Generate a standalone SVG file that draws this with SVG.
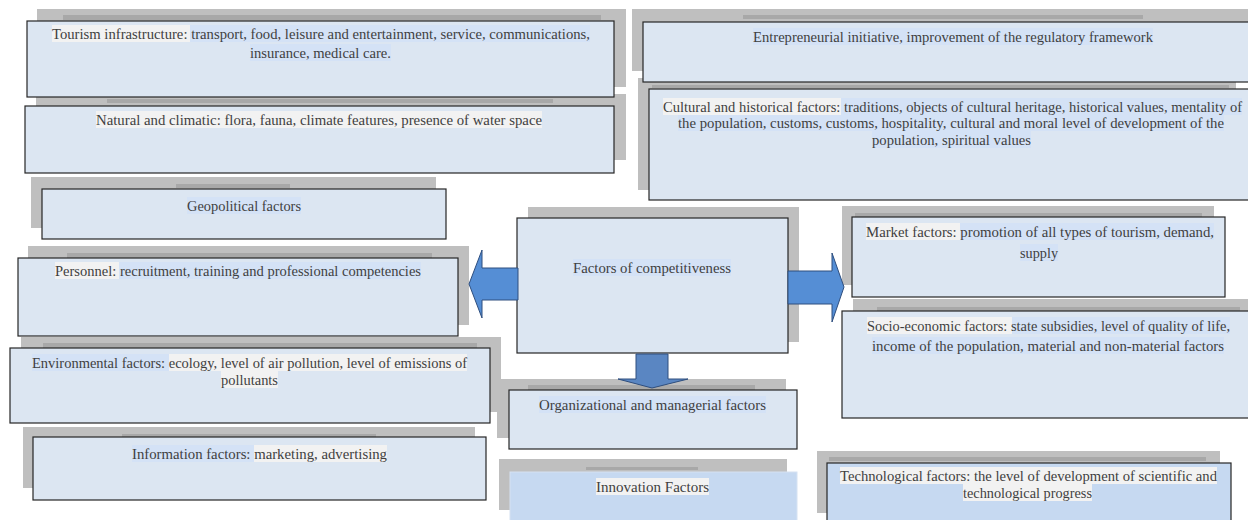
<svg xmlns="http://www.w3.org/2000/svg" width="1248" height="520" viewBox="0 0 1248 520">
  <style>
    .sh { fill: #bfbfbf; }
    .band { fill: #a8a8a8; }
    .box { fill: #dce6f2; stroke: #262626; stroke-width: 1.2; }
    .boxb { fill: #c6d9f1; stroke: #262626; stroke-width: 1.2; }
    .boxn { fill: #c6d9f1; stroke: #d6e2f2; stroke-width: 1; }
    .hw { fill: #f2f2f2; }
    .hb { fill: #d4e2f6; }
    text { font-family: "Liberation Serif", "Times New Roman", serif; font-size: 14.5px; fill: #3f3f3f; text-anchor: middle; }
    .arr { fill: #558ed5; stroke: #2e4e7e; stroke-width: 1; }
    .arrd { fill: #5a86c2; stroke: #2e4e7e; stroke-width: 1; }
  </style>

  <!-- lower rows first, so upper boxes sit on top of the shadows below them -->
  <g id="innovation">
    <rect class="sh" x="499" y="459" width="288" height="51"/>
    <rect class="band" x="586" y="467" width="112" height="3"/>
    <rect class="boxn" x="510" y="472" width="287" height="60"/>
    <rect class="hw" x="596" y="478" width="113" height="17"/>
    <text x="652.5" y="491.5" textLength="113" lengthAdjust="spacingAndGlyphs">Innovation Factors</text>
  </g>

  <g id="technological">
    <rect class="sh" x="817" y="451" width="403" height="62"/>
    <rect class="band" x="829" y="457" width="377" height="4"/>
    <rect class="boxb" x="827" y="463" width="404" height="70"/>
    <rect class="hw" x="840" y="467" width="377" height="17"/>
    <rect class="hw" x="963" y="484" width="129" height="17"/>
    <text x="1028.5" y="480.5" textLength="377" lengthAdjust="spacingAndGlyphs">Technological factors: the level of development of scientific and</text>
    <text x="1027.5" y="497.5" textLength="129" lengthAdjust="spacingAndGlyphs">technological progress</text>
  </g>

  <g id="information">
    <rect class="sh" x="23" y="427" width="452" height="61"/>
    <rect class="band" x="122" y="434" width="254" height="4"/>
    <rect class="box" x="33" y="437" width="453" height="63"/>
    <rect class="hb" x="132" y="445" width="122" height="17"/>
    <rect class="hw" x="254" y="445" width="133" height="17"/>
    <text x="259.5" y="458.5" textLength="255" lengthAdjust="spacingAndGlyphs">Information factors: marketing, advertising</text>
  </g>

  <g id="organizational">
    <rect class="sh" x="497" y="379" width="289" height="59"/>
    <rect class="band" x="528" y="385" width="227" height="5"/>
    <rect class="box" x="509" y="390" width="288" height="59"/>
    <rect class="hb" x="539" y="396" width="227" height="17"/>
    <text x="652.5" y="409.5" textLength="227" lengthAdjust="spacingAndGlyphs">Organizational and managerial factors</text>
  </g>

  <g id="environmental">
    <rect class="sh" x="21" y="337" width="480" height="75"/>
    <rect class="band" x="43" y="343" width="434" height="5"/>
    <rect class="box" x="10" y="348" width="480" height="75"/>
    <rect class="hb" x="32" y="354" width="137" height="17"/>
    <rect class="hw" x="169" y="354" width="298" height="17"/>
    <rect class="hw" x="221" y="371" width="57" height="17"/>
    <text x="249.5" y="367.5" textLength="435" lengthAdjust="spacingAndGlyphs">Environmental factors: ecology, level of air pollution, level of emissions of</text>
    <text x="249.5" y="384.5" textLength="57" lengthAdjust="spacingAndGlyphs">pollutants</text>
  </g>

  <g id="socio-economic">
    <rect class="sh" x="853" y="299" width="397" height="110"/>
    <rect class="band" x="877" y="307" width="363" height="5"/>
    <rect class="box" x="842" y="311" width="408" height="107"/>
    <rect class="hw" x="867" y="317" width="145" height="17"/>
    <rect class="hb" x="1012" y="317" width="218" height="17"/>
    <rect class="hb" x="872" y="337" width="352" height="17"/>
    <text x="1048.5" y="330.5" textLength="363" lengthAdjust="spacingAndGlyphs">Socio-economic factors: state subsidies, level of quality of life,</text>
    <text x="1048" y="350.5" textLength="352" lengthAdjust="spacingAndGlyphs">income of the population, material and non-material factors</text>
  </g>

  <g id="personnel">
    <rect class="sh" x="28" y="246" width="441" height="79"/>
    <rect class="band" x="67" y="253" width="365" height="5"/>
    <rect class="box" x="18" y="258" width="440" height="78"/>
    <rect class="hw" x="55" y="262" width="64" height="17"/>
    <rect class="hb" x="119" y="262" width="302" height="17"/>
    <text x="238" y="275.5" textLength="366" lengthAdjust="spacingAndGlyphs">Personnel: recruitment, training and professional competencies</text>
  </g>

  <g id="competitiveness">
    <rect class="sh" x="528" y="207" width="271" height="135"/>
    <rect class="box" x="517" y="218" width="271" height="135"/>
    <rect class="hb" x="573" y="259" width="158" height="17"/>
    <text x="652" y="272.5" textLength="158" lengthAdjust="spacingAndGlyphs">Factors of competitiveness</text>
  </g>

  <g id="market">
    <rect class="sh" x="842" y="206" width="372" height="79"/>
    <rect class="band" x="855" y="213" width="347" height="5"/>
    <rect class="box" x="852" y="217" width="373" height="80"/>
    <rect class="hw" x="866" y="223" width="94" height="17"/>
    <rect class="hb" x="960" y="223" width="254" height="17"/>
    <rect class="hb" x="1020" y="244" width="38" height="17"/>
    <text x="1040" y="236.5" textLength="348" lengthAdjust="spacingAndGlyphs">Market factors: promotion of all types of tourism, demand,</text>
    <text x="1039" y="257.5" textLength="38" lengthAdjust="spacingAndGlyphs">supply</text>
  </g>

  <g id="geopolitical">
    <rect class="sh" x="31" y="177" width="405" height="51"/>
    <rect class="band" x="176" y="184" width="114" height="4"/>
    <rect class="box" x="42" y="189" width="404" height="50"/>
    <rect class="hb" x="187" y="197" width="114" height="17"/>
    <text x="244" y="210.5" textLength="114" lengthAdjust="spacingAndGlyphs">Geopolitical factors</text>
  </g>

  <g id="natural-climatic">
    <rect class="sh" x="36" y="94" width="590" height="66"/>
    <rect class="band" x="107" y="99" width="446" height="4"/>
    <rect class="box" x="25" y="106" width="589" height="67"/>
    <rect class="hw" x="96" y="111" width="446" height="17"/>
    <text x="319" y="124.5" textLength="446" lengthAdjust="spacingAndGlyphs">Natural and climatic: flora, fauna, climate features, presence of water space</text>
  </g>

  <g id="cultural-historical">
    <rect class="sh" x="638" y="78" width="598" height="112"/>
    <rect class="band" x="652" y="85" width="577" height="3"/>
    <rect class="box" x="649" y="89" width="601" height="111"/>
    <rect class="hw" x="663" y="98" width="178" height="17"/>
    <rect class="hb" x="841" y="98" width="401" height="17"/>
    <rect class="hb" x="678" y="115" width="546" height="16"/>
    <rect class="hb" x="872" y="131" width="159" height="17"/>
    <text x="952.5" y="111.5" textLength="579" lengthAdjust="spacingAndGlyphs">Cultural and historical factors: traditions, objects of cultural heritage, historical values, mentality of</text>
    <text x="951" y="127.5" textLength="546" lengthAdjust="spacingAndGlyphs">the population, customs, customs, hospitality, cultural and moral level of development of the</text>
    <text x="951.5" y="144.5" textLength="159" lengthAdjust="spacingAndGlyphs">population, spiritual values</text>
  </g>

  <g id="tourism-infrastructure">
    <rect class="sh" x="37" y="9" width="589" height="78"/>
    <rect class="band" x="63" y="15" width="538" height="5"/>
    <rect class="box" x="27" y="21" width="587" height="76"/>
    <rect class="hw" x="52" y="25" width="138" height="17"/>
    <rect class="hb" x="190" y="25" width="400" height="17"/>
    <rect class="hb" x="250" y="44" width="141" height="17"/>
    <text x="321" y="38.5" textLength="538" lengthAdjust="spacingAndGlyphs">Tourism infrastructure: transport, food, leisure and entertainment, service, communications,</text>
    <text x="320.5" y="57.5" textLength="141" lengthAdjust="spacingAndGlyphs">insurance, medical care.</text>
  </g>

  <g id="entrepreneurial">
    <rect class="sh" x="632" y="9" width="620" height="62"/>
    <rect class="band" x="743" y="15" width="400" height="4"/>
    <rect class="box" x="643" y="22" width="607" height="60"/>
    <rect class="hb" x="753" y="28" width="400" height="17"/>
    <text x="953" y="41.5" textLength="400" lengthAdjust="spacingAndGlyphs">Entrepreneurial initiative, improvement of the regulatory framework</text>
  </g>

  <!-- block arrows leaving the central box -->
  <g id="connectors">
    <polygon class="arr" points="518,268 482,268 482,250 469,284 482,318 482,300 518,300"/>
    <polygon class="arr" points="788,271 832,271 832,253 844,287 832,322 832,304 788,304"/>
    <polygon class="arrd" points="636,354 668,354 668,379 688,379 652,388 618,379 636,379"/>
  </g>
</svg>
